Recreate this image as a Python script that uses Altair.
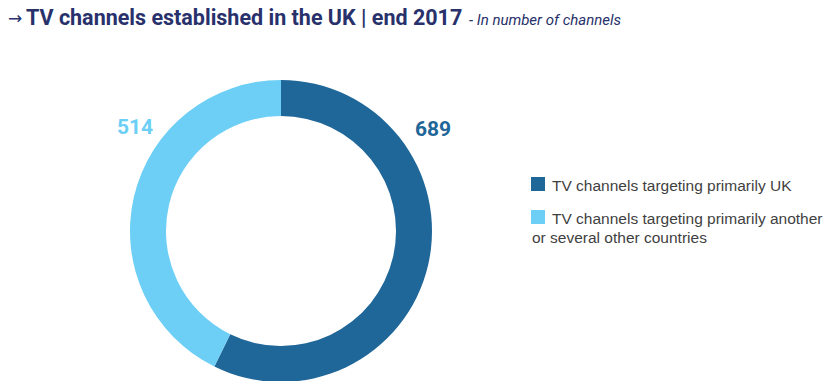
import altair as alt
import pandas as pd

# ---- data ----
categories = ["TV channels targeting primarily UK",
              "TV channels targeting primarily another or several other countries"]
values = [689, 514]
colors = ["#1f6699", "#6dcff6"]
legend_line1 = ["TV channels targeting primarily UK", "TV channels targeting primarily another"]
legend_line2 = ["", "or several other countries"]
title_arrow = "→"
title_main = "TV channels established in the UK | end 2017"
title_sub = "- In number of channels"

df = pd.DataFrame({"category": categories, "value": values, "order": [0, 1],
                   "label": [str(v) for v in values],
                   "l1": legend_line1, "l2": legend_line2})

TITLE_FONT = "Roboto"
BODY_FONT = "Liberation Sans"
NAVY = "#28316b"

color_scale = alt.Scale(domain=categories, range=colors)
base = alt.Chart(df)

donut = base.mark_arc(outerRadius=151, innerRadius=115).encode(
    theta=alt.Theta("value:Q", stack=True),
    color=alt.Color("category:N", scale=color_scale, legend=None),
    order=alt.Order("order:Q"),
    x=alt.value(273), y=alt.value(223),
)

lab_uk = base.transform_filter("datum.order == 0").mark_text(
    font=TITLE_FONT, fontSize=21, fontWeight="bold", align="center", baseline="alphabetic"
).encode(text="label:N", color=alt.Color("category:N", scale=color_scale, legend=None),
         x=alt.value(425), y=alt.value(128))

lab_other = base.transform_filter("datum.order == 1").mark_text(
    font=TITLE_FONT, fontSize=21, fontWeight="bold", align="center", baseline="alphabetic"
).encode(text="label:N", color=alt.Color("category:N", scale=color_scale, legend=None),
         x=alt.value(127), y=alt.value(126))

sq1 = base.transform_filter("datum.order == 0").mark_square(size=196, opacity=1).encode(
    color=alt.Color("category:N", scale=color_scale, legend=None),
    x=alt.value(530), y=alt.value(176))
sq2 = base.transform_filter("datum.order == 1").mark_square(size=196, opacity=1).encode(
    color=alt.Color("category:N", scale=color_scale, legend=None),
    x=alt.value(530), y=alt.value(209))

LEG_SIZE = 15.5
leg_t1 = base.transform_filter("datum.order == 0").mark_text(
    font=BODY_FONT, fontSize=LEG_SIZE, align="left", baseline="alphabetic", color="#3f3f3f"
).encode(text="l1:N", x=alt.value(544), y=alt.value(183))
leg_t2 = base.transform_filter("datum.order == 1").mark_text(
    font=BODY_FONT, fontSize=LEG_SIZE, align="left", baseline="alphabetic", color="#3f3f3f"
).encode(text="l1:N", x=alt.value(544), y=alt.value(216))
leg_t3 = base.transform_filter("datum.order == 1").mark_text(
    font=BODY_FONT, fontSize=LEG_SIZE, align="left", baseline="alphabetic", color="#3f3f3f"
).encode(text="l2:N", x=alt.value(524), y=alt.value(235))

tdf = pd.DataFrame({"a": [title_arrow], "m": [title_main], "s": [title_sub]})
tbase = alt.Chart(tdf)
t_arrow = tbase.mark_text(font="DejaVu Sans", fontSize=17, align="left", baseline="alphabetic",
                          color=NAVY).encode(text="a:N", x=alt.value(0), y=alt.value(16))
t_main = tbase.mark_text(font=TITLE_FONT, fontSize=21.5, fontWeight="bold", align="left",
                         baseline="alphabetic", color=NAVY).encode(
    text="m:N", x=alt.value(18), y=alt.value(17))
t_sub = tbase.mark_text(font=TITLE_FONT, fontSize=15, fontStyle="italic", align="left",
                        baseline="alphabetic", color=NAVY).encode(
    text="s:N", x=alt.value(461), y=alt.value(17))

chart = alt.layer(donut, lab_uk, lab_other, sq1, sq2, leg_t1, leg_t2, leg_t3,
                  t_arrow, t_main, t_sub).properties(
    width=816, height=373, padding=0, autosize="none"
).configure_view(stroke=None)

chart.save("out.html", embed_options={"renderer": "svg", "actions": False})
